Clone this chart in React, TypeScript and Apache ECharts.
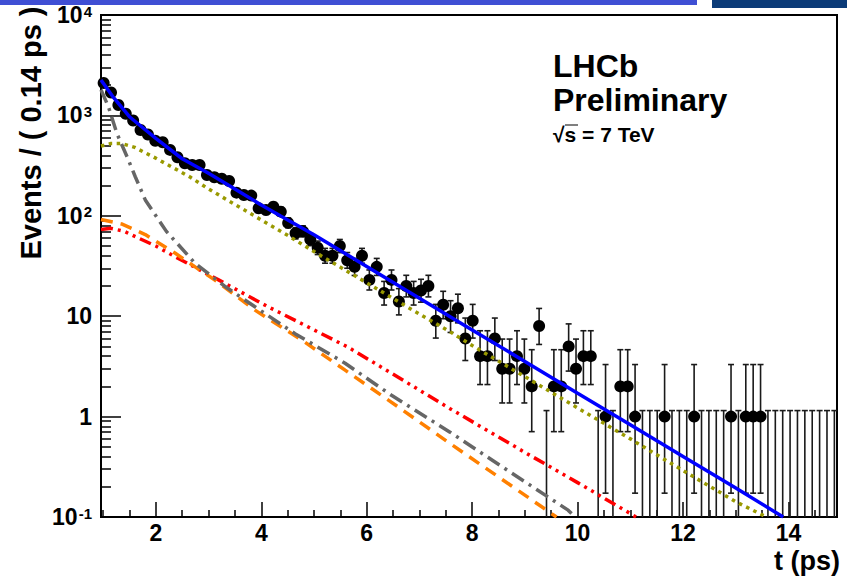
import React, { useEffect, useRef } from "react";
import * as echarts from "echarts";

// ---- histogram definition (Events / 0.14 ps) ----
const BIN_START = 0.94;
const BIN_WIDTH = 0.14;
const COUNTS = [
  2100, 1690, 1270, 1040, 890, 716, 645, 560, 540, 453,
  383, 334, 321, 321, 255, 242, 234, 222, 170, 161,
  159, 119, 114, 123, 110, 85, 67, 70, 58, 48,
  40, 40, 50, 36, 31, 40, 23, 31, 17, 23,
  14, 20, 17, 18, 20, 9, 13, 10, 12, 6,
  9, 4, 4, 6, 3, 3, 4, 3, 2, 8,
  0, 2, 2, 5, 3, 4, 4, 0, 1, 0,
  2, 2, 1, 0, 0, 0, 1, 0, 0, 0,
  1, 0, 0, 0, 0, 1, 0, 1, 1, 1,
  0, 0, 0, 0, 0, 0, 0, 0, 0, 0,
];

// ---- fit components ----
const TOTAL_T = [0.96, 1.2, 1.5, 2.0, 2.5, 3.0, 3.5, 4.0, 4.36, 5, 6, 7, 8, 9, 10, 11, 12, 13, 13.9];
const TOTAL_V = [2250, 1500, 970, 590, 370, 265, 185, 128, 100, 64.7, 31.3, 15.1, 7.3, 3.54, 1.71, 0.83, 0.4, 0.194, 0.1];

const OLIVE_T = [0.96, 1.15, 1.35, 1.6, 2.0, 2.65, 3.0, 4.0, 4.54, 5.0, 6.0, 7.0, 7.58, 8.0, 9.0, 10.0, 11.0, 12.0, 13.0, 13.58];
const OLIVE_V = [495, 525, 525, 480, 375, 243, 185, 91, 62, 44, 21.5, 10.5, 7.0, 5.1, 2.5, 1.22, 0.6, 0.29, 0.142, 0.1];

const GREY_T = [0.96, 1.1, 1.26, 1.48, 1.61, 1.8, 2.2, 2.745, 3.3, 3.88, 4.64, 5.59, 6.47, 7.58, 8.7, 9.82, 9.95];
const GREY_V = [1800, 1224, 665, 360, 245, 144, 70, 33.6, 20, 12.4, 6.7, 3.4, 1.63, 0.7, 0.285, 0.117, 0.1];

const ORANGE_T = [0.96, 1.35, 1.8, 2.37, 2.745, 3.12, 3.88, 4.77, 5.59, 6.41, 7.58, 9.6];
const ORANGE_V = [92, 83, 65, 42.3, 31, 22.9, 11.5, 5.78, 2.9, 1.46, 0.54, 0.1];

const RED_T = [0.96, 1.15, 1.4, 1.67, 2.0, 2.37, 3.19, 4.13, 4.83, 5.65, 6.55, 7.58, 9.0, 10.0, 11.11];
const RED_V = [73, 75, 70, 60, 50, 39, 23, 12.4, 8.1, 4.9, 2.55, 1.2, 0.44, 0.22, 0.1];

// ---- axes ----
const X_MIN = 0.96;
const X_MAX = 14.92;
const X_LABELS = [2, 4, 6, 8, 10, 12, 14];
const X_MINOR = [1, 1.5, 2.5, 3, 3.5, 4.5, 5, 5.5, 6.5, 7, 7.5, 8.5, 9, 9.5, 10.5, 11, 11.5, 12.5, 13, 13.5, 14.5];
const Y_MIN = 0.1;
const Y_MAX = 10000;
const Y_MAJOR = [0.1, 1, 10, 100, 1000, 10000];
const Y_MINOR = [
  0.2, 0.3, 0.4, 0.5, 0.6, 0.7, 0.8, 0.9,
  2, 3, 4, 5, 6, 7, 8, 9,
  20, 30, 40, 50, 60, 70, 80, 90,
  200, 300, 400, 500, 600, 700, 800, 900,
  2000, 3000, 4000, 5000, 6000, 7000, 8000, 9000,
];

const FONT = "'Liberation Sans', Arial, Helvetica, sans-serif";

function poissonCdf(n: number, mu: number): number {
  let term = Math.exp(-mu);
  let sum = term;
  for (let k = 1; k <= n; k++) {
    term *= mu / k;
    sum += term;
  }
  return sum;
}

// Garwood (central 68%) Poisson interval for a count n
function poissonInterval(n: number): [number, number] {
  if (n === 0) return [0, 1.148];
  if (n > 150) return [n - Math.sqrt(n), n + Math.sqrt(n)];
  const a = 0.158655;
  let lo = 0, hi = n;
  for (let i = 0; i < 80; i++) {
    const mid = (lo + hi) / 2;
    if (1 - poissonCdf(n - 1, mid) < a) lo = mid; else hi = mid;
  }
  const L = (lo + hi) / 2;
  lo = n; hi = n + 10 * Math.sqrt(n) + 10;
  for (let i = 0; i < 80; i++) {
    const mid = (lo + hi) / 2;
    if (poissonCdf(n, mid) > a) lo = mid; else hi = mid;
  }
  const U = (lo + hi) / 2;
  return [L, U];
}

function pairs(t: number[], v: number[]) {
  return t.map((x, i) => [x, v[i]]);
}

export default function App() {
  const ref = useRef<HTMLDivElement>(null);

  useEffect(() => {
    if (!ref.current) return;
    const chart = echarts.init(ref.current, undefined, { renderer: "svg" });

    const centers = COUNTS.map((_, i) => BIN_START + BIN_WIDTH * (i + 0.5));
    const points = COUNTS.map((n, i) => [centers[i], n]).filter((p) => p[1] > 0);
    const errData = COUNTS.map((n, i) => {
      const [lo, hi] = poissonInterval(n);
      return [centers[i], Math.max(lo, Y_MIN), hi, lo > Y_MIN ? 1 : 0];
    });

    const lineSeries = (name: string, data: number[][], color: string, type: any) => ({
      name,
      type: "line",
      data,
      showSymbol: false,
      symbol: "none",
      z: 5,
      clip: true,
      lineStyle: { color, width: 3.5, type, cap: "butt" },
    });

    const option: any = {
      animation: false,
      backgroundColor: "#ffffff",
      grid: {
        left: 101,
        right: 10,
        top: 15,
        bottom: 59,
        show: true,
        borderColor: "#000",
        borderWidth: 2,
        backgroundColor: "transparent",
        containLabel: false,
      },
      xAxis: [
        {
          type: "value",
          min: X_MIN,
          max: X_MAX,
          position: "bottom",
          axisLine: { show: false },
          splitLine: { show: false },
          axisTick: {
            show: true,
            inside: true,
            length: 15,
            customValues: X_LABELS,
            lineStyle: { color: "#000", width: 1.5 },
          },
          axisLabel: {
            customValues: X_LABELS,
            fontSize: 23,
            fontWeight: "bold",
            fontFamily: FONT,
            color: "#000",
            margin: 4,
            lineHeight: 23,
          },
        },
        {
          type: "value",
          min: X_MIN,
          max: X_MAX,
          position: "bottom",
          axisLine: { show: false },
          splitLine: { show: false },
          axisLabel: { show: false },
          axisTick: {
            show: true,
            inside: true,
            length: 7,
            customValues: X_MINOR,
            lineStyle: { color: "#000", width: 1.5 },
          },
        },
      ],
      yAxis: [
        {
          type: "log",
          logBase: 10,
          min: Y_MIN,
          max: Y_MAX,
          position: "left",
          axisLine: { show: false },
          splitLine: { show: false },
          axisTick: {
            show: true,
            inside: true,
            length: 20,
            customValues: Y_MAJOR,
            lineStyle: { color: "#000", width: 1.5 },
          },
          axisLabel: {
            customValues: Y_MAJOR,
            fontSize: 23,
            fontWeight: "bold",
            fontFamily: FONT,
            color: "#000",
            margin: 9,
            formatter: (v: number) => {
              const e = Math.round(Math.log10(v));
              if (e === 0) return "1";
              if (e === 1) return "10";
              return "10{sup|" + e + "}";
            },
            rich: {
              sup: {
                fontSize: 15,
                fontWeight: "bold",
                fontFamily: FONT,
                color: "#000",
                verticalAlign: "top",
                lineHeight: 15,
                padding: [0, 0, 8, 1],
              },
            },
          },
        },
        {
          type: "log",
          logBase: 10,
          min: Y_MIN,
          max: Y_MAX,
          position: "left",
          axisLine: { show: false },
          splitLine: { show: false },
          axisLabel: { show: false },
          axisTick: {
            show: true,
            inside: true,
            length: 10,
            customValues: Y_MINOR,
            lineStyle: { color: "#000", width: 1.5 },
          },
        },
      ],
      series: [
        {
          name: "errors",
          type: "custom",
          data: errData,
          z: 2,
          encode: { x: 0, y: [1, 2] },
          renderItem: (params: any, api: any) => {
            const t = api.value(0);
            const lo = api.value(1);
            const hi = api.value(2);
            const cap = api.value(3);
            const top = api.coord([t, hi]);
            const bot = api.coord([t, lo]);
            const st = { stroke: "#1a1a1a", lineWidth: 1.6 };
            const children: any[] = [
              { type: "line", shape: { x1: top[0], y1: top[1], x2: bot[0], y2: bot[1] }, style: st },
              { type: "line", shape: { x1: top[0] - 3, y1: top[1], x2: top[0] + 3, y2: top[1] }, style: st },
            ];
            if (cap) {
              children.push({ type: "line", shape: { x1: bot[0] - 3, y1: bot[1], x2: bot[0] + 3, y2: bot[1] }, style: st });
            }
            return { type: "group", children };
          },
        },
        {
          name: "data",
          type: "scatter",
          data: points,
          symbol: "circle",
          symbolSize: 12,
          z: 3,
          itemStyle: { color: "#000", opacity: 1 },
        },
        lineSeries("comp3", pairs(RED_T, RED_V), "#ff0000", [12, 5, 3, 5, 3, 5, 3, 5]),
        lineSeries("comp2", pairs(ORANGE_T, ORANGE_V), "#ff8000", [12, 8]),
        lineSeries("comp1", pairs(GREY_T, GREY_V), "#666666", [14, 6, 3, 6]),
        lineSeries("signal", pairs(OLIVE_T, OLIVE_V), "#999900", [3.5, 4.5]),
        lineSeries("total", pairs(TOTAL_T, TOTAL_V), "#0000ff", "solid"),
      ],
      graphic: [
        { type: "rect", shape: { x: 0, y: 0, width: 697, height: 5 }, style: { fill: "#3f4fd4" }, silent: true },
        { type: "rect", shape: { x: 712, y: 0, width: 135, height: 8 }, style: { fill: "#0b3b78" }, silent: true },
        {
          type: "text",
          x: 31,
          y: 133,
          rotation: Math.PI / 2,
          style: {
            text: "Events / ( 0.14 ps )",
            fontSize: 29,
            fontWeight: "bold",
            fontFamily: FONT,
            fill: "#000",
            align: "center",
            verticalAlign: "middle",
          },
        },
        {
          type: "text",
          x: 840,
          y: 561,
          style: {
            text: "t (ps)",
            fontSize: 27,
            fontWeight: "bold",
            fontFamily: FONT,
            fill: "#000",
            align: "right",
            verticalAlign: "middle",
            lineHeight: 27,
          },
        },
        {
          type: "text",
          x: 553,
          y: 50,
          style: { text: "LHCb", fontSize: 32, fontWeight: "bold", fontFamily: FONT, fill: "#000", align: "left", verticalAlign: "top" },
        },
        {
          type: "text",
          x: 553,
          y: 84,
          style: { text: "Preliminary", fontSize: 32, fontWeight: "bold", fontFamily: FONT, fill: "#000", align: "left", verticalAlign: "top" },
        },
        {
          type: "text",
          x: 553,
          y: 124,
          style: { text: "√s = 7 TeV", fontSize: 21, fontWeight: "bold", fontFamily: FONT, fill: "#000", align: "left", verticalAlign: "top" },
        },
        {
          type: "line",
          shape: { x1: 565, y1: 125, x2: 578, y2: 125 },
          style: { stroke: "#000", lineWidth: 1 },
        },
      ],
    };

    chart.setOption(option);
    return () => chart.dispose();
  }, []);

  return (
    <div
      ref={ref}
      style={{ position: "absolute", left: 0, top: 0, width: 847, height: 576 }}
    />
  );
}
